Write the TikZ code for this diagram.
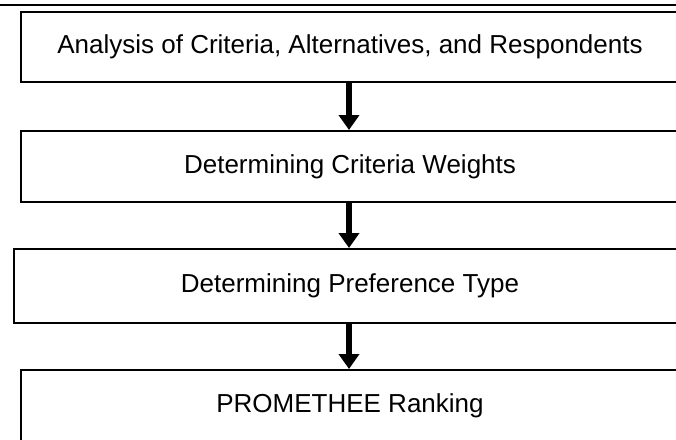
\documentclass[tikz,border=0pt]{standalone}
\usepackage{fontspec}
\setmainfont{Liberation Sans}
\usetikzlibrary{arrows.meta}
\begin{document}
\begin{tikzpicture}[x=1pt,y=-1pt,
  stepbox/.style={draw=black, line width=2pt, fill=white, rectangle, inner sep=0pt,
    font=\fontsize{26}{30}\selectfont, anchor=north west},
  flow/.style={line width=5.5pt, -{Triangle[length=15pt,width=20pt]}}]
\useasboundingbox (0,0) rectangle (676,439);
\fill[white] (0,0) rectangle (676,439);
\coordinate (tl) at (0,5);
\coordinate (tr) at (676,5);
\draw[line width=2.5pt] (tl) -- (tr);
\node[stepbox, minimum width=658pt, minimum height=70pt] (b1) at (20,11) {Analysis of Criteria, Alternatives, and Respondents};
\node[stepbox, minimum width=658pt, minimum height=71pt] (b2) at (20,130) {Determining Criteria Weights};
\node[stepbox, minimum width=672pt, minimum height=74pt] (b3) at (13,248) {Determining Preference Type};
\node[stepbox, minimum width=658pt, minimum height=72pt] (b4) at (20,369) {PROMETHEE Ranking};
\draw[flow] (b1.south -| 349,0) -- (b2.north -| 349,0);
\draw[flow] (b2.south -| 349,0) -- (b3.north -| 349,0);
\draw[flow] (b3.south -| 349,0) -- (b4.north -| 349,0);
\end{tikzpicture}
\end{document}
